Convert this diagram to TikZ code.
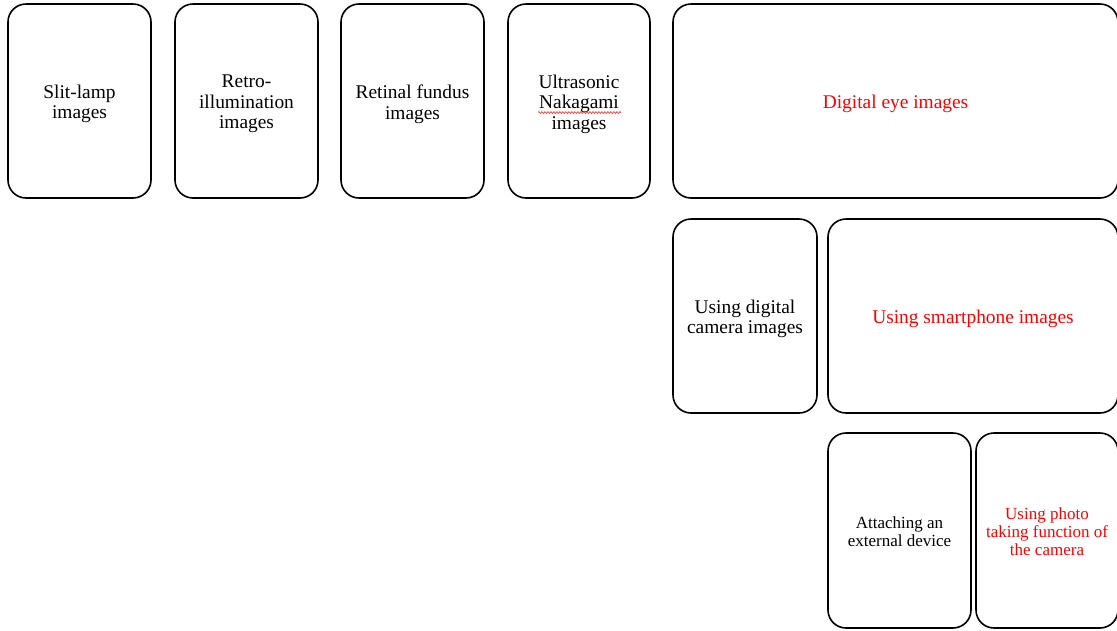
\documentclass[tikz,border=0pt]{standalone}
\usepackage{fontspec}
\setmainfont{Liberation Serif}
\usetikzlibrary{decorations.pathmorphing}
\begin{document}
\begin{tikzpicture}[x=1pt,y=-1pt,
  card/.style={draw=black, line width=1.6pt, rounded corners=18pt, fill=white,
    inner sep=0pt},
  txt/.style={align=center, inner sep=0pt, yshift=-3pt,
    font=\fontsize{19.4}{20.6}\selectfont},
  small/.style={yshift=2pt, font=\fontsize{17}{18}\selectfont},
  hot/.style={text=red}]
\useasboundingbox (0,0) rectangle (1117,630);
\clip (0,0) rectangle (1117,630);
% top row
\node[card, minimum width=143pt, minimum height=194pt] (slit) at (79.5,101) {};
\node[card, minimum width=143pt, minimum height=194pt] (retro) at (246.5,101) {};
\node[card, minimum width=143pt, minimum height=194pt] (fundus) at (412.5,101) {};
\node[card, minimum width=142pt, minimum height=194pt] (nak) at (579,101) {};
\node[card, minimum width=445pt, minimum height=194pt] (digital) at (895.5,101) {};
% second row
\node[card, minimum width=144pt, minimum height=194pt] (camera) at (745,316) {};
\node[card, minimum width=290pt, minimum height=194pt] (phone) at (973,316) {};
% third row
\node[card, minimum width=143pt, minimum height=195pt] (attach) at (899.5,530.5) {};
\node[card, minimum width=142pt, minimum height=195pt] (photo) at (1047,530.5) {};
% captions
\node[txt] (slitT) at (slit.center) {Slit-lamp\\images};
\node[txt] (retroT) at (retro.center) {Retro-\\illumination\\images};
\node[txt] (fundusT) at (fundus.center) {Retinal fundus\\images};
\node[txt] (nakT) at (nak.center) {Ultrasonic\\Nakagami\\images};
\node[txt, hot] (digitalT) at (digital.center) {Digital eye images};
\node[txt] (cameraT) at (camera.center) {Using digital\\camera images};
\node[txt, hot] (phoneT) at (phone.center) {Using smartphone images};
\node[txt, small] (attachT) at (attach.center) {Attaching an\\external device};
\node[txt, small, hot] (photoT) at (photo.center) {Using photo\\taking function of\\the camera};
% spelling mark under the word Nakagami
\coordinate (sqa) at (538,112.5);
\coordinate (sqb) at (621,112.5);
\draw[red!85!white, line width=0.6pt, decorate,
  decoration={snake, amplitude=0.9pt, segment length=3pt}] (sqa) -- (sqb);
\end{tikzpicture}
\end{document}
